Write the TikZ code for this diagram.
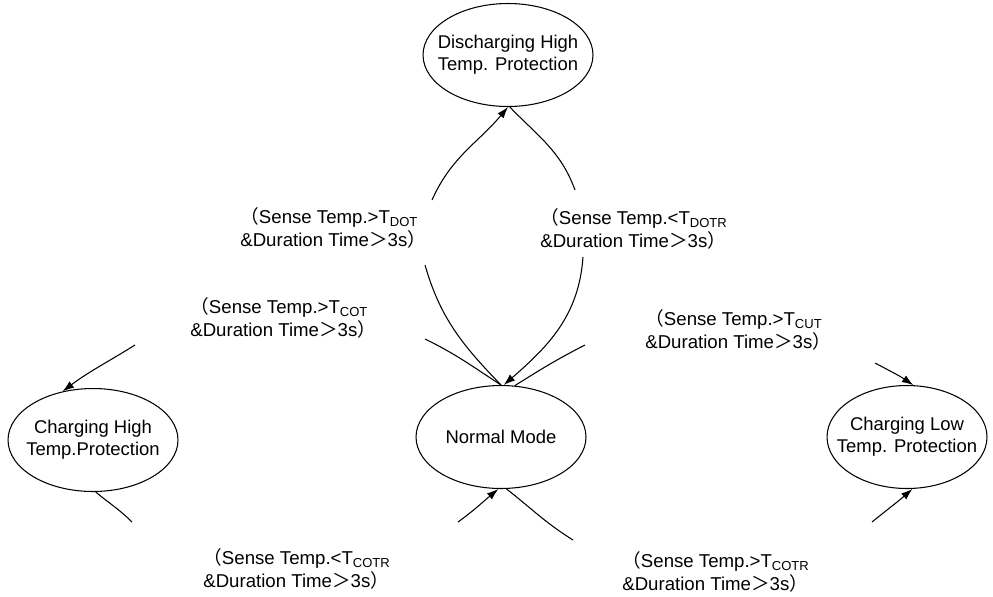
\documentclass[tikz,border=0pt]{standalone}
\usepackage{fontspec}
\setmainfont{Liberation Sans}
\newfontfamily\cjkfw{Noto Sans CJK SC}
\usetikzlibrary{shapes.geometric,arrows.meta}
\newcommand{\fwlp}{{\cjkfw （}}
\newcommand{\fwrp}{{\cjkfw ）}}
\newcommand{\fwgt}{{\cjkfw ＞}}
\newcommand{\subT}[1]{T\textsubscript{#1}}
\begin{document}
\begin{tikzpicture}[x=0.02cm,y=0.02cm,
  state/.style={ellipse, draw, line width=0.6pt, minimum width=3.4cm, minimum height=2.06cm,
    inner xsep=-12pt, inner ysep=0pt, align=center, font=\fontsize{10.5}{12.5}\selectfont},
  lbl/.style={anchor=north west, inner sep=0pt, align=left, font=\fontsize{10.6}{13}\selectfont},
  conn/.style={line width=0.6pt},
  arr/.style={line width=0.6pt, -{Latex[length=6.5pt,width=4.5pt]}}]
\useasboundingbox (0,0) rectangle (993,-596);

% states
\node[state] (disc) at (508,-55) {Discharging High\\Temp. Protection};
\node[state] (normal) at (501,-437) {Normal Mode};
\node[state] (ch) at (93,-440) {Charging High\\Temp.Protection};
\node[state, minimum width=3.2cm] (cl) at (907,-437) {Charging Low\\Temp. Protection};

% labels
\node[lbl] (la) at (240,-207) {\fwlp Sense Temp.>\subT{DOT}\\\&Duration Time\fwgt 3s\fwrp};
\node[lbl] (lb) at (190,-297) {\fwlp Sense Temp.>\subT{COT}\\\&Duration Time\fwgt 3s\fwrp};
\node[lbl] (lc) at (540,-208) {\fwlp Sense Temp.<\subT{DOTR}\\\&Duration Time\fwgt 3s\fwrp};
\node[lbl] (ld) at (645,-309) {\fwlp Sense Temp.>\subT{CUT}\\\&Duration Time\fwgt 3s\fwrp};
\node[lbl] (le) at (203,-548) {\fwlp Sense Temp.<\subT{COTR}\\\&Duration Time\fwgt 3s\fwrp};
\node[lbl] (lf) at (622,-551) {\fwlp Sense Temp.>\subT{COTR}\\\&Duration Time\fwgt 3s\fwrp};

% free ends of the broken connectors
\coordinate (cL1) at (425,-265);
\coordinate (cL2) at (432,-200);
\coordinate (cR1) at (575,-190);
\coordinate (cR2) at (583,-257);
\coordinate (cBL1) at (425,-339);
\coordinate (cBL2) at (135,-345);
\coordinate (cBR1) at (585,-345);
\coordinate (cBR2) at (875,-363);
\coordinate (cBB1) at (132,-522);
\coordinate (cBB2) at (458,-522);
\coordinate (cBD1) at (573,-540);
\coordinate (cBD2) at (872,-522);

% Normal -> Discharging (left arc)
\draw[conn] (normal.north) to[out=134,in=-74] (cL1);
\draw[arr] (cL2) to[out=66,in=230] (disc.south);
% Discharging -> Normal (right arc)
\draw[conn] (disc.-88) to[out=-46,in=110] (cR1);
\draw[arr] (cR2) to[out=-94,in=41] (normal.87);
% Normal -> Charging High
\draw[conn] (normal.north) to[out=147,in=-26] (cBL1);
\draw[arr] (cBL2) to[out=212,in=37] (ch.122);
% Normal -> Charging Low (top)
\draw[conn] (normal.75) to[out=32,in=-153] (cBR1);
\draw[arr] (cBR2) to[out=-28,in=146] (cl.83);
% Charging High -> Normal
\draw[conn] (ch.-87) to[out=-40,in=135] (cBB1);
\draw[arr] (cBB2) to[out=36,in=-140] (normal.-93);
% Normal -> Charging Low (bottom)
\draw[conn] (normal.-84) to[out=-38,in=148] (cBD1);
\draw[arr] (cBD2) to[out=39,in=-139] (cl.-84);
\end{tikzpicture}
\end{document}
